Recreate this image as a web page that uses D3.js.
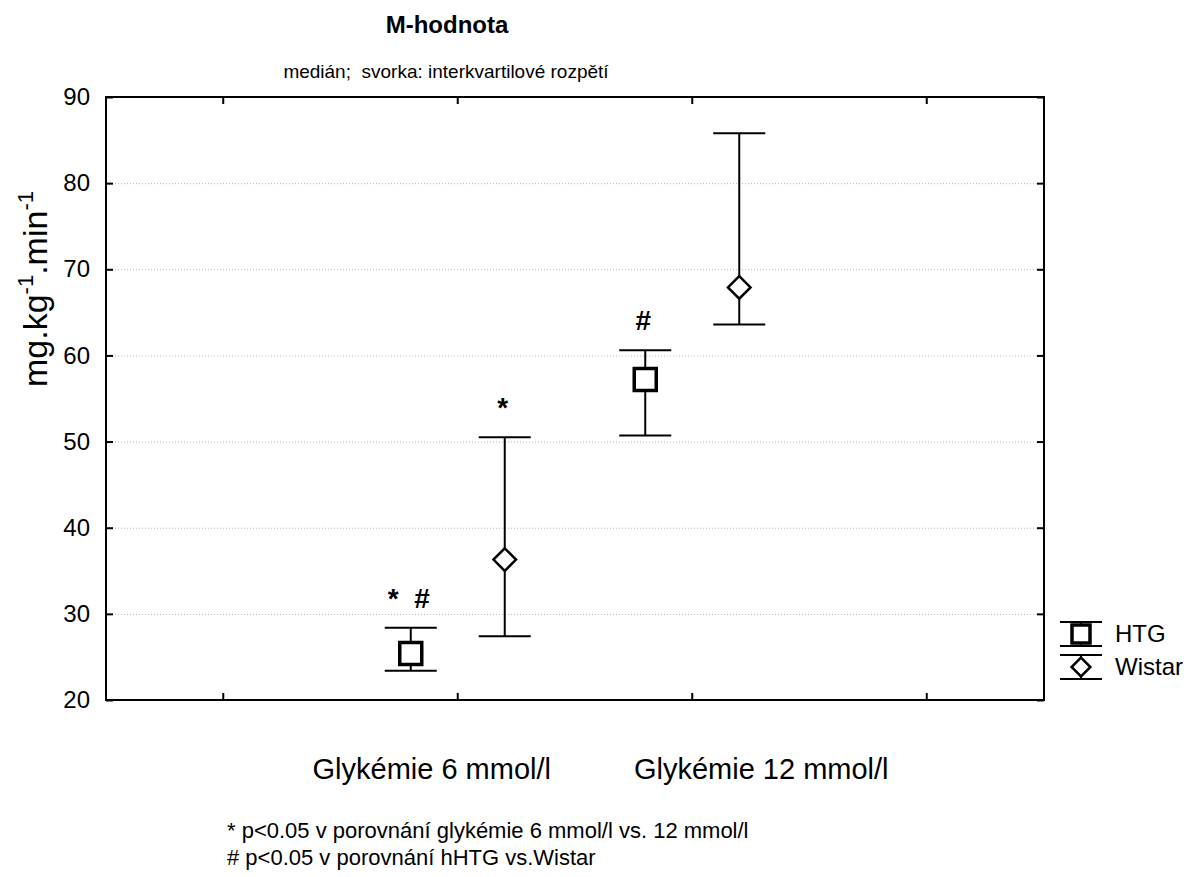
<!DOCTYPE html>
<html>
<head>
<meta charset="utf-8">
<script src="https://cdn.jsdelivr.net/npm/d3@7"></script>
<style>
  body { margin: 0; background: #fff; }
  svg text { font-family: "Liberation Sans", Arial, sans-serif; fill: #000; }
</style>
</head>
<body>
<div id="chart"></div>
<script>
// data
var slots = ["s0", "g6", "g12", "s3"];
var groupLabels = ["Glykémie 6 mmol/l", "Glykémie 12 mmol/l"];
var series = ["HTG", "Wistar"];

var medianHTG = [25.4, 57.2];
var q1HTG = [23.4, 50.7];
var q3HTG = [28.4, 60.6];

var medianWistar = [36.3, 67.9];
var q1Wistar = [27.4, 63.6];
var q3Wistar = [50.5, 85.8];

var signifHTG = ["*\u00a0\u00a0#", "#"];
var signifWistar = ["*", ""];

var yTicks = [20, 30, 40, 50, 60, 70, 80, 90];
var footnotes = [
  "* p<0.05 v porovnání glykémie 6 mmol/l vs. 12 mmol/l",
  "# p<0.05 v porovnání hHTG vs.Wistar"
];

var W = 1204, H = 877;
var margin = {left: 106, right: 160, top: 97, bottom: 177};
var pw = W - margin.left - margin.right;
var ph = H - margin.top - margin.bottom;

var svg = d3.select("#chart").append("svg")
  .attr("width", W).attr("height", H);

var x = d3.scaleBand().domain(slots).range([margin.left, margin.left + pw]);
var inner = d3.scalePoint().domain(series).range([-47, 47]);
var y = d3.scaleLinear().domain([20, 90]).range([margin.top + ph, margin.top]);

// build rows from the arrays
var rows = [];
["g6", "g12"].forEach(function(g, i) {
  rows.push({slot: g, s: "HTG", med: medianHTG[i], lo: q1HTG[i], hi: q3HTG[i], sig: signifHTG[i]});
  rows.push({slot: g, s: "Wistar", med: medianWistar[i], lo: q1Wistar[i], hi: q3Wistar[i], sig: signifWistar[i]});
});
var cx = function(d) { return x(d.slot) + x.bandwidth() / 2 + inner(d.s); };

// grid
svg.append("g").selectAll("line")
  .data(yTicks.filter(function(t) { return t > 20 && t < 90; }))
  .enter().append("line")
  .attr("x1", margin.left).attr("x2", margin.left + pw)
  .attr("y1", function(d) { return y(d) + 0.5; }).attr("y2", function(d) { return y(d) + 0.5; })
  .attr("stroke", "#b4b4b4").attr("stroke-width", 1).attr("stroke-dasharray", "1,2");

// axes
var axLeft = d3.axisLeft(y).tickValues(yTicks).tickSize(-7).tickPadding(16).tickFormat(d3.format("d"));
var axRight = d3.axisRight(y).tickValues(yTicks).tickSize(-7).tickFormat("");
var axBottom = d3.axisBottom(x).tickSize(-7).tickFormat("");
var axTop = d3.axisTop(x).tickSize(-7).tickFormat("");

function styleAxis(g) {
  g.select(".domain").remove();
  g.selectAll("line").attr("stroke", "#000").attr("stroke-width", 2);
  g.selectAll("text").attr("font-size", 24).attr("font-family", "Liberation Sans, Arial, sans-serif");
}
svg.append("g").attr("transform", "translate(" + margin.left + ",0)").call(axLeft).call(styleAxis);
svg.append("g").attr("transform", "translate(" + (margin.left + pw) + ",0)").call(axRight).call(styleAxis);
svg.append("g").attr("transform", "translate(0," + (margin.top + ph) + ")").call(axBottom).call(styleAxis);
svg.append("g").attr("transform", "translate(0," + margin.top + ")").call(axTop).call(styleAxis);

svg.append("rect")
  .attr("x", margin.left).attr("y", margin.top).attr("width", pw).attr("height", ph)
  .attr("fill", "none").attr("stroke", "#000").attr("stroke-width", 2);

// whiskers
var bars = svg.append("g").selectAll("g").data(rows).enter().append("g");
bars.append("line")
  .attr("x1", cx).attr("x2", cx)
  .attr("y1", function(d) { return y(d.lo); }).attr("y2", function(d) { return y(d.hi); })
  .attr("stroke", "#000").attr("stroke-width", 2);
bars.selectAll(".cap").data(function(d) { return [{d: d, v: d.lo}, {d: d, v: d.hi}]; })
  .enter().append("line")
  .attr("x1", function(c) { return cx(c.d) - 26; }).attr("x2", function(c) { return cx(c.d) + 26; })
  .attr("y1", function(c) { return y(c.v); }).attr("y2", function(c) { return y(c.v); })
  .attr("stroke", "#000").attr("stroke-width", 2);

// markers
var sqSym = d3.symbol().type(d3.symbolSquare).size(22 * 22);
var dmSym = d3.symbol().type(d3.symbolDiamond2).size(18 * 18);
bars.append("path")
  .attr("transform", function(d) { return "translate(" + cx(d) + "," + y(d.med) + ")"; })
  .attr("d", function(d) { return d.s === "HTG" ? sqSym() : dmSym(); })
  .attr("fill", "#fff").attr("stroke", "#000")
  .attr("stroke-width", function(d) { return d.s === "HTG" ? 3.5 : 2.5; });

// significance marks
bars.append("text")
  .attr("x", function(d) { return cx(d) - 2; }).attr("y", function(d) { return y(d.hi) - 20; })
  .attr("text-anchor", "middle").attr("font-size", 28).attr("font-weight", "bold")
  .text(function(d) { return d.sig; });

// title
svg.append("text").attr("x", 447).attr("y", 33).attr("text-anchor", "middle")
  .attr("font-size", 24).attr("font-weight", "bold").text("M-hodnota");
svg.append("text").attr("x", 446).attr("y", 78).attr("text-anchor", "middle")
  .attr("font-size", 19).text("medián;\u00a0 svorka: interkvartilové rozpětí");

// y label
var yl = svg.append("text").attr("transform", "translate(47,289) rotate(-90)")
  .attr("text-anchor", "middle").attr("font-size", 34);
yl.append("tspan").text("mg.kg");
yl.append("tspan").attr("dy", -14).attr("font-size", 22).text("-1");
yl.append("tspan").attr("dy", 14).text(".min");
yl.append("tspan").attr("dy", -14).attr("font-size", 22).text("-1");

// category labels
var labelShift = [-26, 69];
svg.append("g").selectAll("text").data(groupLabels).enter().append("text")
  .attr("x", function(d, i) { return x(["g6", "g12"][i]) + x.bandwidth() / 2 + labelShift[i]; })
  .attr("y", 779).attr("text-anchor", "middle").attr("font-size", 29)
  .text(function(d) { return d; });

// legend
var lg = svg.append("g").attr("transform", "translate(1060,0)");
series.forEach(function(s, i) {
  var cy = 634 + i * 33;
  var sym = i === 0 ? d3.symbol().type(d3.symbolSquare).size(18 * 18) : d3.symbol().type(d3.symbolDiamond2).size(15 * 15);
  lg.append("line").attr("x1", 0).attr("x2", 42).attr("y1", cy - 12).attr("y2", cy - 12)
    .attr("stroke", "#000").attr("stroke-width", 2);
  lg.append("line").attr("x1", 0).attr("x2", 42).attr("y1", cy + 12).attr("y2", cy + 12)
    .attr("stroke", "#000").attr("stroke-width", 2);
  lg.append("line").attr("x1", 21).attr("x2", 21).attr("y1", cy - 12).attr("y2", cy + 12)
    .attr("stroke", "#000").attr("stroke-width", 2);
  lg.append("path").attr("transform", "translate(21," + cy + ")").attr("d", sym())
    .attr("fill", "#fff").attr("stroke", "#000").attr("stroke-width", i === 0 ? 3.5 : 2.5);
  lg.append("text").attr("x", 55).attr("y", cy + 8).attr("font-size", 24).text(s);
});

// footnotes
svg.append("g").selectAll("text").data(footnotes).enter().append("text")
  .attr("x", 227).attr("y", function(d, i) { return 838 + i * 27; })
  .attr("font-size", 22).text(function(d) { return d; });
</script>
</body>
</html>
